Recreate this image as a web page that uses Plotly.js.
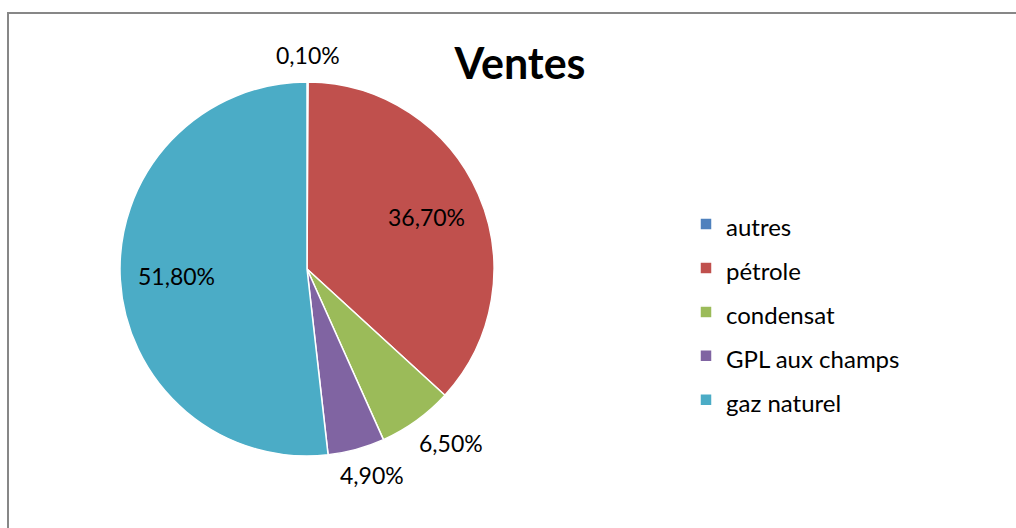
<!DOCTYPE html>
<html>
<head>
<meta charset="utf-8">
<script src="https://cdn.plot.ly/plotly-3.0.1.min.js"></script>
<style>
html,body{margin:0;padding:0;background:#fff;overflow:hidden;}
#wrap{position:relative;width:1016px;height:528px;overflow:hidden;}
#chart{width:1016px;height:528px;}
#frame{position:absolute;left:7px;top:12px;width:1100px;height:600px;border-top:2px solid #878787;border-left:2px solid #878787;pointer-events:none;}
</style>
</head>
<body>
<div id="wrap"><div id="chart"></div><div id="frame"></div></div>
<script>
const categories = ['autres', 'pétrole', 'condensat', 'GPL aux champs', 'gaz naturel'];
const shares = [0.1, 36.7, 6.5, 4.9, 51.8];
const colors = ['#4F81BD', '#C0504D', '#9BBB59', '#8064A2', '#4BACC6'];
const labelInside = [false, true, false, false, true];

const W = 1016, H = 528;
const cx = 307, cy = 269, r = 187;
const font = 'Lato, "Open Sans", sans-serif';

// legend line height comes from the legend font size; the visible text is smaller
const legendLabels = categories.map(c => '<span style="font-size:24px">' + c + '</span>');

const trace = {
  type: 'pie',
  labels: legendLabels,
  values: shares,
  sort: false,
  direction: 'clockwise',
  rotation: 0,
  marker: {colors: colors, line: {color: '#ffffff', width: 1.5}},
  textinfo: 'none',
  hovertext: categories,
  hoverinfo: 'text+percent',
  domain: {x: [(cx - r) / W, (cx + r) / W], y: [(H - cy - r) / H, (H - cy + r) / H]}
};

// data labels placed at the middle angle of each slice (computed from the values)
const total = shares.reduce((a, b) => a + b, 0);
const annotations = [];
let acc = 0;
shares.forEach((v, i) => {
  const mid = (acc + v / 2) / total * 2 * Math.PI;
  acc += v;
  const s = Math.sin(mid), c = Math.cos(mid);
  let px, py;
  if (labelInside[i]) {
    const d = 0.70 * r;
    px = cx + d * s; py = cy - d * c;
  } else {
    const d = r + 14, hw = 45, hh = 13;
    px = cx + d * s + hw * s; py = cy - d * c - hh * c;
  }
  const txt = v.toFixed(2).replace('.', ',') + '%';
  annotations.push({text: txt, x: px / W, y: 1 - py / H, xref: 'paper', yref: 'paper',
    xanchor: 'center', yanchor: 'middle', showarrow: false,
    font: {family: font, size: 23, color: '#000000'}});
});

const layout = {
  width: W, height: H,
  margin: {l: 0, r: 0, t: 0, b: 0},
  separators: ', ',
  paper_bgcolor: '#ffffff',
  font: {family: font, color: '#000000'},
  title: {text: '<b>Ventes</b>', x: 520 / W, y: 1 - 64 / H, xanchor: 'center', yanchor: 'middle',
          font: {family: font, size: 43, color: '#000000'}},
  showlegend: true,
  legend: {x: 686 / W, y: 1 - 312 / H, xanchor: 'left', yanchor: 'middle',
           font: {family: font, size: 31.5, color: '#000000'}, itemwidth: 30},
  annotations: annotations
};

Plotly.newPlot('chart', [trace], layout, {displayModeBar: false});
</script>
</body>
</html>
